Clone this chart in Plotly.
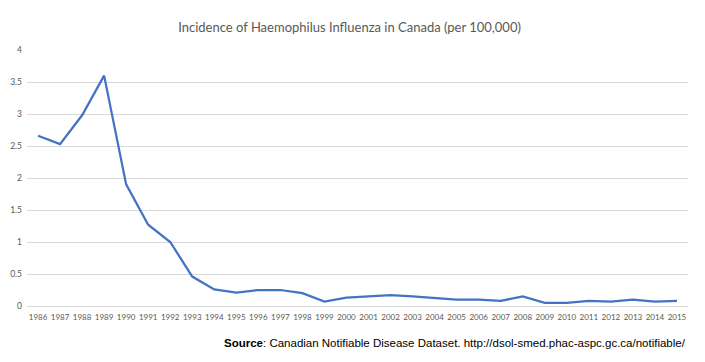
import plotly.graph_objects as go

years = [str(y) for y in range(1986, 2016)]
incidence = [2.66, 2.53, 2.98, 3.60, 1.90, 1.27, 1.00, 0.46, 0.26, 0.21,
             0.25, 0.25, 0.20, 0.07, 0.13, 0.15, 0.17, 0.15, 0.12, 0.10,
             0.10, 0.08, 0.15, 0.05, 0.05, 0.08, 0.07, 0.10, 0.07, 0.08]
y_ticks = [0, 0.5, 1, 1.5, 2, 2.5, 3, 3.5, 4]
y_tick_labels = ["0", "0.5", "1", "1.5", "2", "2.5", "3", "3.5", "4"]

W, H = 697, 354  # page body has an 8px default margin

fig = go.Figure()
fig.add_trace(go.Scatter(x=years, y=incidence, mode="lines",
                         line=dict(color="#4472C4", width=2.25)))

fig.update_layout(
    width=W, height=H,
    margin=dict(l=19, r=17, t=42, b=56),
    paper_bgcolor="white", plot_bgcolor="white",
    showlegend=False,
    title=dict(text="Incidence of Haemophilus Influenza in Canada (per 100,000)",
               x=0.488, xanchor="center", xref="paper",
               y=1 - 19 / H, yanchor="middle", yref="container",
               font=dict(family="Lato", size=13, color="#595959")),
    font=dict(family="Lato", color="#595959"),
)
fig.update_xaxes(type="category", range=[-0.5, 29.5], showgrid=False,
                 showline=False, ticks="", tickfont=dict(size=8, color="#595959"),
                 tickangle=0, automargin=False, ticklabelstandoff=5)
fig.update_yaxes(range=[0, 4], tickvals=y_ticks, ticktext=y_tick_labels,
                 showgrid=True, gridcolor="#D9D9D9", gridwidth=1,
                 zeroline=True, zerolinecolor="#D9D9D9", zerolinewidth=1,
                 showline=False, ticks="", tickfont=dict(size=8.5, color="#595959"),
                 automargin=False, ticklabelstandoff=4)

fig.add_annotation(
    text="<b>Source</b>: Canadian Notifiable Disease Dataset. http://dsol-smed.phac-aspc.gc.ca/notifiable/",
    xref="paper", yref="paper", x=1.0, y=-0.115, xanchor="right", yanchor="top",
    showarrow=False, font=dict(family="Liberation Sans", size=11.5, color="black"))

fig.write_html("out.html")
